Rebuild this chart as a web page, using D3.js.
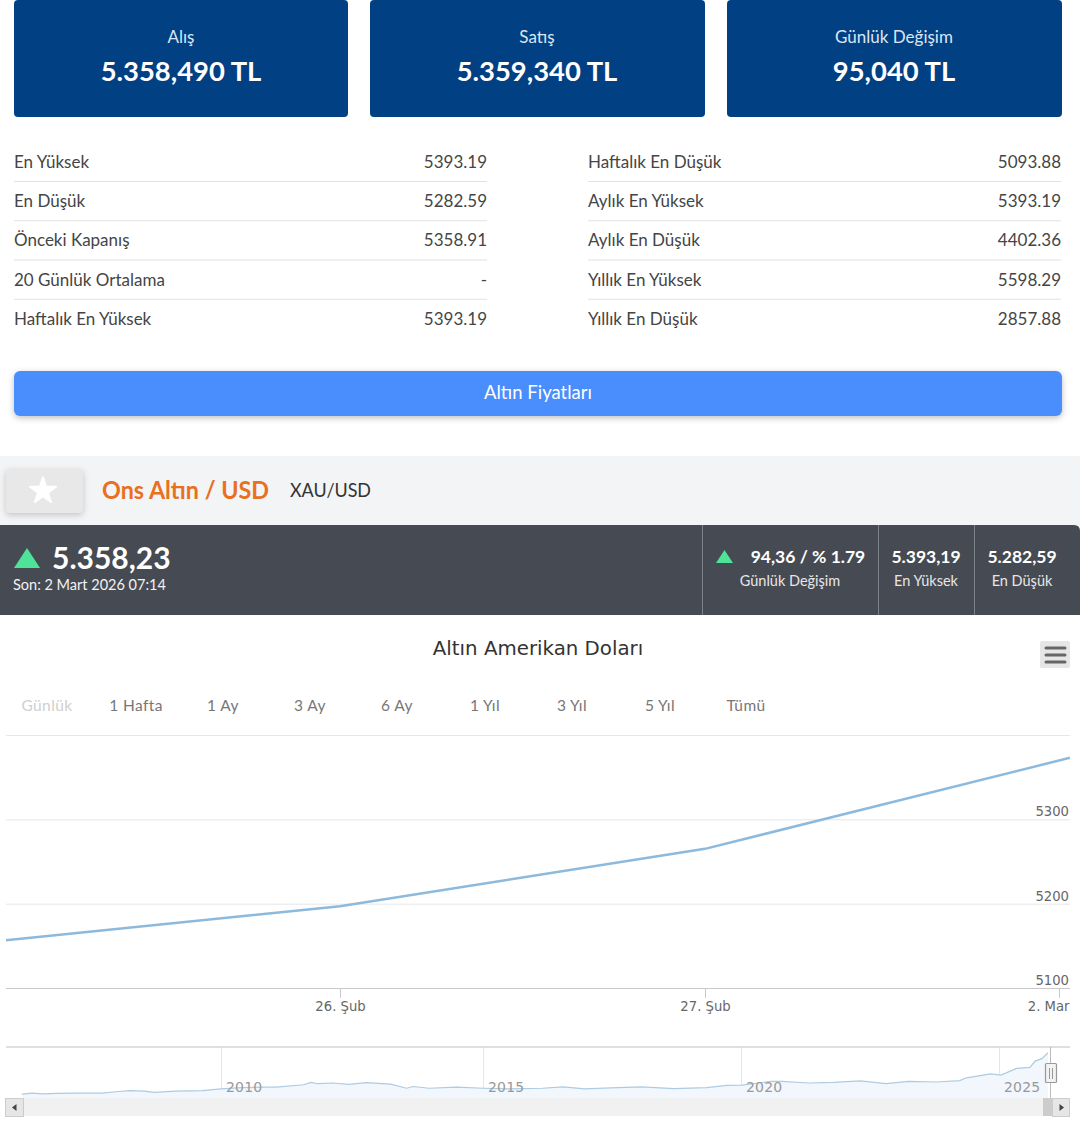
<!DOCTYPE html>
<html>
<head>
<meta charset="utf-8">
<script src="https://cdn.jsdelivr.net/npm/d3@7"></script>
<style>
html, body { margin: 0; padding: 0; background: #fff; }
svg { display: block; }
text { font-family: Lato, "Noto Sans", sans-serif; }
.hc text { font-family: "DejaVu Sans", sans-serif; }
</style>
</head>
<body>
<div id="chart"></div>
<script>
const cardLabels = ["Alış", "Satış", "Günlük Değişim"];
const cardValues = ["5.358,490 TL", "5.359,340 TL", "95,040 TL"];

const leftLabels = ["En Yüksek", "En Düşük", "Önceki Kapanış", "20 Günlük Ortalama", "Haftalık En Yüksek"];
const leftValues = ["5393.19", "5282.59", "5358.91", "-", "5393.19"];
const rightLabels = ["Haftalık En Düşük", "Aylık En Yüksek", "Aylık En Düşük", "Yıllık En Yüksek", "Yıllık En Düşük"];
const rightValues = ["5093.88", "5393.19", "4402.36", "5598.29", "2857.88"];

const statValues = ["5.393,19", "5.282,59"];
const statLabels = ["En Yüksek", "En Düşük"];

const rangeLabels = ["Günlük", "1 Hafta", "1 Ay", "3 Ay", "6 Ay", "1 Yıl", "3 Yıl", "5 Yıl", "Tümü"];

// main chart, one point per trading day
const dayLabels = ["25. Şub", "26. Şub", "27. Şub", "2. Mar"];
const dayValues = [5153, 5197, 5265, 5373];
const priceTicks = [5100, 5200, 5300, 5400];

// navigator
const navYears = [2006.2, 2006.4, 2006.6, 2006.87, 2007.27, 2007.73, 2008, 2008.26, 2008.53, 2008.73, 2009.13, 2009.65,
    2010, 2010.39, 2010.78, 2011.05, 2011.58, 2011.71, 2011.85, 2012.14, 2012.44, 2012.77, 2013.24, 2013.54, 2013.67, 2013.97, 2014.5,
    2015, 2015.49, 2016.15, 2016.55, 2016.97, 2017.47, 2018.07, 2018.7, 2019.33, 2019.73, 2020.02, 2020.59, 2020.79,
    2021.32, 2021.79, 2022.31, 2022.81, 2023.25, 2023.78, 2024.24, 2024.37, 2024.84, 2025.04, 2025.34, 2025.6, 2025.7, 2025.83, 2025.95];
const navValues = [462, 588, 504, 546, 588, 588, 756, 882, 840, 672, 840, 882,
    1092, 1260, 1302, 1302, 1596, 1890, 1722, 1806, 1638, 1848, 1680, 1176, 1386, 1176, 1302,
    1176, 1092, 1176, 1344, 1092, 1218, 1344, 1134, 1260, 1512, 1554, 2016, 2016,
    1806, 1890, 2058, 1722, 2016, 1932, 2100, 2436, 2898, 2772, 3570, 3696, 4452, 4746, 5460];
const navTicks = [2010, 2015, 2020, 2025];

const svg = d3.select("#chart").append("svg").attr("width", 1080).attr("height", 1130);

function label(g, x, y, str, size, fill, opts = {}) {
    const t = g.append("text")
        .attr("x", x).attr("y", y)
        .attr("dy", "0.35em")
        .attr("text-anchor", opts.anchor || "start")
        .attr("font-size", size)
        .attr("font-weight", opts.weight || 400)
        .attr("fill", fill)
        .text(str);
    // Lato runs wider than the original font, squeeze to the measured width
    if (opts.fit) t.attr("textLength", opts.fit).attr("lengthAdjust", "spacingAndGlyphs");
    return t;
}

// ---- top cards
const cardX = [14, 370, 727];
const cards = svg.append("g");
cardLabels.forEach((c, i) => {
    cards.append("rect").attr("x", cardX[i]).attr("y", 0).attr("width", i == 0 ? 334 : 335).attr("height", 117).attr("rx", 4).attr("fill", "#024084");
    label(cards, cardX[i] + 167, 37, c, 17, "#dbe6f2", { anchor: "middle" });
    label(cards, cardX[i] + 167, 71, cardValues[i], 27.4, "#fff", { anchor: "middle", weight: 700 });
});

// ---- price table
const rowY = d3.scalePoint().domain(d3.range(5)).range([162, 319]);
function table(x0, x1, labels, values) {
    const g = svg.append("g");
    labels.forEach((l, i) => {
        label(g, x0, rowY(i), l, 17, "#454545");
        label(g, x1, rowY(i), values[i], 17, "#454545", { anchor: "end" });
        if (i < 4) g.append("line").attr("x1", x0).attr("x2", x1).attr("y1", rowY(i) + 19.5).attr("y2", rowY(i) + 19.5).attr("stroke", "#e2e2e2").attr("stroke-width", 1.2);
    });
}
table(14, 487, leftLabels, leftValues);
table(588, 1061, rightLabels, rightValues);

// ---- button
svg.append("rect").attr("x", 14).attr("y", 371).attr("width", 1048).attr("height", 45).attr("rx", 6)
    .attr("fill", "#4a8dfd").style("filter", "drop-shadow(0 2px 3px rgba(0,0,0,.25))");
label(svg, 538, 393, "Altın Fiyatları", 18.5, "#fff", { anchor: "middle" });

// ---- instrument header
svg.append("rect").attr("x", 0).attr("y", 456).attr("width", 1080).attr("height", 70).attr("fill", "#f3f4f5");
svg.append("rect").attr("x", 6).attr("y", 469).attr("width", 77).attr("height", 44).attr("rx", 4)
    .attr("fill", "#e8e8e8").style("filter", "drop-shadow(0 2px 3px rgba(0,0,0,.2))");
svg.append("path").attr("transform", "translate(43,491)")
    .attr("d", d3.symbol(d3.symbolStar, 210)()).attr("fill", "#fff")
    .attr("stroke", "#fff").attr("stroke-width", 2).attr("stroke-linejoin", "round");
label(svg, 102, 490, "Ons Altın / USD", 25, "#e8701f", { weight: 700, fit: 167 });
label(svg, 290, 490, "XAU/USD", 20, "#333", { fit: 81 });

// ---- dark price bar
svg.append("path").attr("d", "M0 525H1074Q1080 525 1080 531V615H0Z").attr("fill", "#464a52");
svg.append("path").attr("d", "M14 568L27 548L40 568Z").attr("fill", "#4fe39a");
label(svg, 52, 558, "5.358,23", 30, "#fff", { weight: 700 });
label(svg, 13, 585, "Son: 2 Mart 2026 07:14", 14.5, "#f2f2f2");
[702, 878, 974].forEach(x => svg.append("line").attr("x1", x + 0.5).attr("x2", x + 0.5).attr("y1", 525).attr("y2", 615).attr("stroke", "#7d8188"));
svg.append("path").attr("d", "M716 563L724.5 550L733 563Z").attr("fill", "#4fe39a");
label(svg, 808, 557, "94,36 / % 1.79", 17.5, "#fff", { anchor: "middle", weight: 700 });
label(svg, 790, 581, "Günlük Değişim", 14.5, "#e6e6e6", { anchor: "middle" });
statValues.forEach((v, i) => {
    const cx = [926, 1022][i];
    label(svg, cx, 557, v, 17.5, "#fff", { anchor: "middle", weight: 700 });
    label(svg, cx, 581, statLabels[i], 14.5, "#e6e6e6", { anchor: "middle" });
});

// ---- main chart
const hc = svg.append("g").attr("class", "hc");
label(hc, 538, 648, "Altın Amerikan Doları", 19.8, "#333", { anchor: "middle" });

hc.append("rect").attr("x", 1040).attr("y", 641).attr("width", 30).attr("height", 27).attr("rx", 2).attr("fill", "#e6e6e6");
[648, 655, 662].forEach(y => hc.append("line").attr("x1", 1046).attr("x2", 1065).attr("y1", y).attr("y2", y)
    .attr("stroke", "#666").attr("stroke-width", 3).attr("stroke-linecap", "round"));

const rangeX = [47, 136, 223, 310, 397, 485, 572, 660, 746];
rangeLabels.forEach((r, i) => label(svg, rangeX[i], 705.5, r, 15.5, i == 0 ? "#cfcfcf" : "#777", { anchor: "middle" }).attr("letter-spacing", 0.4));

const left = 6, right = 1070;
// the zoom window cuts the first day off, the line enters from the left edge
const x = d3.scaleLinear().domain([0.085, 3]).range([left, right]);
const y = d3.scaleLinear().domain([5100, 5400]).range([988, 735]);

svg.append("clipPath").attr("id", "plot").append("rect").attr("x", left).attr("y", 735).attr("width", right - left).attr("height", 253);

const yAxis = d3.axisRight(y).tickValues(priceTicks).tickSize(right - left).tickFormat(d3.format("d"));
hc.append("g").attr("transform", `translate(${left},0)`).call(yAxis)
    .call(g => g.select(".domain").remove())
    .call(g => g.selectAll("line").attr("stroke", "#e6e6e6"))
    .call(g => g.selectAll("text").attr("x", right - left - 1).attr("dy", -3.5).attr("text-anchor", "end")
        .attr("fill", "#666").attr("font-size", 13.2)
        .filter(d => d == 5400).remove());

const xAxis = d3.axisBottom(x).tickValues([1, 2, 3]).tickSize(10).tickFormat(d => dayLabels[d]);
hc.append("g").attr("transform", "translate(0,988)").call(xAxis)
    .call(g => g.select(".domain").attr("stroke", "#c8c8c8").attr("d", `M${left},0.5H${right}`))
    .call(g => g.selectAll("line").attr("stroke", "#c8c8c8"))
    .call(g => g.selectAll("text").attr("y", 18).attr("dy", "0.35em").attr("fill", "#666").attr("font-size", 13.2))
    .call(g => {
        const last = g.selectAll(".tick").filter(d => d == 3);
        last.select("line").attr("transform", "translate(-11,0)");
        last.select("text").attr("text-anchor", "end").attr("x", -1);
    });

const mainLine = d3.line().x((d, i) => x(i)).y(d => y(d));
hc.append("path").datum(dayValues).attr("clip-path", "url(#plot)")
    .attr("d", mainLine).attr("fill", "none").attr("stroke", "#8cb9dc").attr("stroke-width", 2.5);

// ---- navigator
const navTop = 1047, navBottom = 1098;
const nx = d3.scaleLinear().domain([2010, 2015, 2025]).range([221, 483, 999]);
const ny = d3.scaleLinear().domain([0, 6150]).range([navBottom, navTop]);

const navAxis = d3.axisTop(nx).tickValues(navTicks).tickSize(navBottom - navTop).tickFormat("");
hc.append("g").attr("transform", `translate(0,${navBottom})`).call(navAxis)
    .call(g => g.select(".domain").remove())
    .call(g => g.selectAll("line").attr("stroke", "#e6e6e6"));

const navPoints = navYears.map((yr, i) => [yr, navValues[i]]);
hc.append("path").datum(navPoints)
    .attr("d", d3.area().x(d => nx(d[0])).y0(navBottom).y1(d => ny(d[1])))
    .attr("fill", "#f1f7fc");
hc.append("path").datum(navPoints)
    .attr("d", d3.line().x(d => nx(d[0])).y(d => ny(d[1])))
    .attr("fill", "none").attr("stroke", "#adcbe2").attr("stroke-width", 1.2);

hc.selectAll(".nav-label").data(navTicks).join("text")
    .attr("class", "nav-label")
    .attr("x", d => nx(d) + 5).attr("y", 1087).attr("dy", "0.35em")
    .attr("font-size", 14).attr("fill", "#999").attr("letter-spacing", 0.2)
    .text(d => d);

hc.append("line").attr("x1", left).attr("x2", right).attr("y1", navTop).attr("y2", navTop).attr("stroke", "#d4d4d4").attr("stroke-width", 1.3);
hc.append("line").attr("x1", 1050.5).attr("x2", 1050.5).attr("y1", navTop).attr("y2", navBottom).attr("stroke", "#bbb");

// scrollbar
hc.append("rect").attr("x", left).attr("y", navBottom).attr("width", right - left).attr("height", 18).attr("fill", "#f1f1f1");
hc.append("rect").attr("x", 1043).attr("y", navBottom).attr("width", 10).attr("height", 18).attr("fill", "#cccccc");
hc.append("rect").attr("x", 5.5).attr("y", 1098.5).attr("width", 18).attr("height", 18).attr("fill", "#e6e6e6").attr("stroke", "#ccc");
hc.append("rect").attr("x", 1052.5).attr("y", 1098.5).attr("width", 17).attr("height", 18).attr("fill", "#e6e6e6").attr("stroke", "#ccc");
hc.append("path").attr("d", "M16.5 1104V1111L12 1107.5Z").attr("fill", "#444");
hc.append("path").attr("d", "M1059.5 1104V1111L1064 1107.5Z").attr("fill", "#444");

// navigator handle
hc.append("rect").attr("x", 1045.5).attr("y", 1063.5).attr("width", 11).attr("height", 19).attr("rx", 1).attr("fill", "#f2f2f2").attr("stroke", "#999").attr("stroke-width", 1.2);
[1049.5, 1052.5].forEach(hx => hc.append("line").attr("x1", hx).attr("x2", hx).attr("y1", 1068).attr("y2", 1079).attr("stroke", "#999"));
</script>
</body>
</html>
